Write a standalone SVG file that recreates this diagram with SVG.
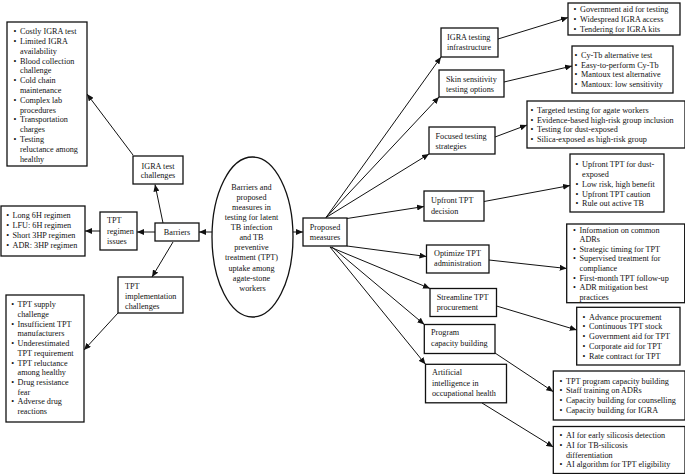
<svg xmlns="http://www.w3.org/2000/svg" width="685" height="474" viewBox="0 0 685 474">
<style>
rect, ellipse { fill: #fff; stroke: #111; stroke-width: 1.3; }
text { font-family: "Liberation Serif", "Times New Roman", serif; font-size: 8.2px; fill: #111; }
.c { text-anchor: middle; }
.edge { stroke: #111; stroke-width: 1; fill: none; marker-end: url(#ah); }
</style>
<defs>
<marker id="ah" markerWidth="7" markerHeight="6" refX="7" refY="3" orient="auto" markerUnits="userSpaceOnUse">
<path d="M0,0 L7,3 L0,6 z" fill="#111"/>
</marker>
</defs>
<rect x="0" y="0" width="685" height="474" style="fill:#fff;stroke:none"/>

<g id="connectors">
<line class="edge" x1="212" y1="232" x2="199" y2="232"/>
<line class="edge" x1="155" y1="232" x2="137" y2="232"/>
<line class="edge" x1="100" y1="231" x2="85" y2="231"/>
<line class="edge" x1="163" y1="223" x2="155" y2="184.5"/>
<line class="edge" x1="133" y1="155" x2="87" y2="94"/>
<line class="edge" x1="173" y1="242" x2="152" y2="277"/>
<line class="edge" x1="118" y1="313" x2="84" y2="350"/>
<line class="edge" x1="293" y1="232" x2="303" y2="232"/>
<line class="edge" x1="326" y1="217.5" x2="441" y2="57"/>
<line class="edge" x1="326" y1="217.5" x2="439" y2="97"/>
<line class="edge" x1="326" y1="217.5" x2="429" y2="154"/>
<line class="edge" x1="347" y1="218.5" x2="424" y2="206.5"/>
<line class="edge" x1="347" y1="246" x2="426.5" y2="256.5"/>
<line class="edge" x1="330" y1="247" x2="430" y2="288.5"/>
<line class="edge" x1="332" y1="247" x2="424.3" y2="324.5"/>
<line class="edge" x1="330" y1="247" x2="425.5" y2="364.3"/>
<line class="edge" x1="498" y1="39" x2="568" y2="17.5"/>
<line class="edge" x1="504" y1="82" x2="572" y2="66"/>
<line class="edge" x1="495" y1="137" x2="527" y2="125"/>
<line class="edge" x1="484" y1="201.5" x2="570" y2="185.5"/>
<line class="edge" x1="489" y1="260" x2="566.7" y2="268.5"/>
<line class="edge" x1="496.5" y1="306" x2="576.7" y2="330"/>
<line class="edge" x1="495" y1="353" x2="553.3" y2="391.7"/>
<line class="edge" x1="482" y1="403" x2="553.3" y2="447"/>
</g>

<g id="igra_list">
<rect x="7" y="22" width="80" height="144"/>
<text>
<tspan x="13.6" y="34.1">•</tspan><tspan x="20">Costly IGRA test</tspan>
<tspan x="13.6" y="43.9">•</tspan><tspan x="20">Limited IGRA</tspan>
<tspan x="20" y="53.7">availability</tspan>
<tspan x="13.6" y="63.5">•</tspan><tspan x="20">Blood collection</tspan>
<tspan x="20" y="73.3">challenge</tspan>
<tspan x="13.6" y="83.1">•</tspan><tspan x="20">Cold chain</tspan>
<tspan x="20" y="92.9">maintenance</tspan>
<tspan x="13.6" y="102.7">•</tspan><tspan x="20">Complex lab</tspan>
<tspan x="20" y="112.5">procedures</tspan>
<tspan x="13.6" y="122.3">•</tspan><tspan x="20">Transportation</tspan>
<tspan x="20" y="132.1">charges</tspan>
<tspan x="13.6" y="141.9">•</tspan><tspan x="20">Testing</tspan>
<tspan x="20" y="151.7">reluctance among</tspan>
<tspan x="20" y="161.5">healthy</tspan>
</text>
</g>

<g id="igra_challenges">
<rect x="133" y="156" width="50" height="28"/>
<text class="c"><tspan x="158" y="168.5">IGRA test</tspan><tspan x="158" y="178.1">challenges</tspan></text>
</g>

<g id="regimen_list">
<rect x="1" y="206" width="84" height="50"/>
<text>
<tspan x="6.2" y="218.1">•</tspan><tspan x="12.5">Long 6H regimen</tspan>
<tspan x="6.2" y="228.1">•</tspan><tspan x="12.5">LFU: 6H regimen</tspan>
<tspan x="6.2" y="238.1">•</tspan><tspan x="12.5">Short 3HP regimen</tspan>
<tspan x="6.2" y="248.1">•</tspan><tspan x="12.5">ADR: 3HP regimen</tspan>
</text>
</g>

<g id="regimen_issues">
<rect x="100" y="212" width="37" height="38"/>
<text><tspan x="107" y="222.8">TPT</tspan><tspan x="107" y="233.8">regimen</tspan><tspan x="107" y="243.8">issues</tspan></text>
</g>

<g id="barriers">
<rect x="155" y="223" width="44" height="18"/>
<text class="c" x="177" y="234.8">Barriers</text>
</g>

<g id="impl_challenges">
<rect x="118" y="277" width="65" height="36"/>
<text><tspan x="125" y="288.8">TPT</tspan><tspan x="125" y="298.8">implementation</tspan><tspan x="125" y="308.8">challenges</tspan></text>
</g>

<g id="impl_list">
<rect x="6" y="295" width="78" height="127"/>
<text>
<tspan x="11.2" y="307.1">•</tspan><tspan x="17.5">TPT supply</tspan>
<tspan x="17.5" y="316.8">challenge</tspan>
<tspan x="11.2" y="326.6">•</tspan><tspan x="17.5">Insufficient TPT</tspan>
<tspan x="17.5" y="336.3">manufacturers</tspan>
<tspan x="11.2" y="346">•</tspan><tspan x="17.5">Underestimated</tspan>
<tspan x="17.5" y="355.7">TPT requirement</tspan>
<tspan x="11.2" y="365.5">•</tspan><tspan x="17.5">TPT reluctance</tspan>
<tspan x="17.5" y="375.2">among healthy</tspan>
<tspan x="11.2" y="384.9">•</tspan><tspan x="17.5">Drug resistance</tspan>
<tspan x="17.5" y="394.7">fear</tspan>
<tspan x="11.2" y="404.4">•</tspan><tspan x="17.5">Adverse drug</tspan>
<tspan x="17.5" y="414.1">reactions</tspan>
</text>
</g>

<g id="central">
<ellipse cx="252.5" cy="237" rx="40.5" ry="80"/>
<text class="c">
<tspan x="252.5" y="189.5">Barriers and</tspan>
<tspan x="252.5" y="199.6">proposed</tspan>
<tspan x="252.5" y="209.8">measures in</tspan>
<tspan x="252.5" y="219.9">testing for latent</tspan>
<tspan x="252.5" y="230">TB infection</tspan>
<tspan x="252.5" y="240.1">and TB</tspan>
<tspan x="252.5" y="250.3">preventive</tspan>
<tspan x="252.5" y="260.4">treatment (TPT)</tspan>
<tspan x="252.5" y="270.5">uptake among</tspan>
<tspan x="252.5" y="280.6">agate-stone</tspan>
<tspan x="252.5" y="290.8">workers</tspan>
</text>
</g>

<g id="proposed">
<rect x="303" y="218" width="44" height="28"/>
<text class="c"><tspan x="325" y="230.1">Proposed</tspan><tspan x="325" y="240.1">measures</tspan></text>
</g>

<g id="igra_infra">
<rect x="441" y="28" width="57" height="29"/>
<text><tspan x="447" y="39.5">IGRA testing</tspan><tspan x="447" y="50.1">infrastructure</tspan></text>
</g>

<g id="skin">
<rect x="439" y="70" width="65" height="27"/>
<text><tspan x="446" y="82.1">Skin sensitivity</tspan><tspan x="446" y="92.1">testing options</tspan></text>
</g>

<g id="focused">
<rect x="429" y="127" width="66" height="27"/>
<text><tspan x="435.5" y="138.8">Focused testing</tspan><tspan x="435.5" y="148.8">strategies</tspan></text>
</g>

<g id="upfront">
<rect x="424" y="191" width="60" height="30"/>
<text><tspan x="431" y="202.8">Upfront TPT</tspan><tspan x="431" y="213.5">decision</tspan></text>
</g>

<g id="optimize">
<rect x="426.5" y="245" width="62.5" height="28"/>
<text><tspan x="434" y="255.5">Optimize TPT</tspan><tspan x="434" y="266.1">administration</tspan></text>
</g>

<g id="streamline">
<rect x="430" y="288.5" width="66.5" height="28"/>
<text><tspan x="436.7" y="299.5">Streamline TPT</tspan><tspan x="436.7" y="310.1">procurement</tspan></text>
</g>

<g id="program">
<rect x="424.3" y="324.5" width="70.7" height="29"/>
<text><tspan x="431" y="335.3">Program</tspan><tspan x="431" y="345.8">capacity building</tspan></text>
</g>

<g id="ai">
<rect x="425.5" y="364.3" width="81" height="38.5"/>
<text><tspan x="432" y="375.3">Artificial</tspan><tspan x="432" y="385.8">intelligence in</tspan><tspan x="432" y="396.1">occupational health</tspan></text>
</g>

<g id="gov_list">
<rect x="568" y="3" width="112" height="32"/>
<text>
<tspan x="573.5" y="12.1">•</tspan><tspan x="580">Government aid for testing</tspan>
<tspan x="573.5" y="22.1">•</tspan><tspan x="580">Widespread IGRA access</tspan>
<tspan x="573.5" y="32.1">•</tspan><tspan x="580">Tendering for IGRA kits</tspan>
</text>
</g>

<g id="cytb_list">
<rect x="572" y="46" width="101" height="47"/>
<text>
<tspan x="574.6" y="57.8">•</tspan><tspan x="581">Cy-Tb alternative test</tspan>
<tspan x="574.6" y="67.5">•</tspan><tspan x="581">Easy-to-perform Cy-Tb</tspan>
<tspan x="574.6" y="77.1">•</tspan><tspan x="581">Mantoux test alternative</tspan>
<tspan x="574.6" y="86.8">•</tspan><tspan x="581">Mantoux: low sensitivity</tspan>
</text>
</g>

<g id="targeted_list">
<rect x="527" y="101" width="158" height="47"/>
<text>
<tspan x="530.6" y="112.8">•</tspan><tspan x="537">Targeted testing for agate workers</tspan>
<tspan x="530.6" y="122.5">•</tspan><tspan x="537">Evidence-based high-risk group inclusion</tspan>
<tspan x="530.6" y="132.1">•</tspan><tspan x="537">Testing for dust-exposed</tspan>
<tspan x="530.6" y="141.8">•</tspan><tspan x="537">Silica-exposed as high-risk group</tspan>
</text>
</g>

<g id="upfront_list">
<rect x="570" y="154" width="94" height="58"/>
<text>
<tspan x="575.6" y="167.2">•</tspan><tspan x="582">Upfront TPT for dust-</tspan>
<tspan x="582" y="177">exposed</tspan>
<tspan x="575.6" y="186.8">•</tspan><tspan x="582">Low risk, high benefit</tspan>
<tspan x="575.6" y="196.6">•</tspan><tspan x="582">Upfront TPT caution</tspan>
<tspan x="575.6" y="206.4">•</tspan><tspan x="582">Rule out active TB</tspan>
</text>
</g>

<g id="admin_list">
<rect x="566.7" y="224" width="118" height="78.7"/>
<text>
<tspan x="573.1" y="232.5">•</tspan><tspan x="579.5">Information on common</tspan>
<tspan x="579.5" y="242.1">ADRs</tspan>
<tspan x="573.1" y="251.7">•</tspan><tspan x="579.5">Strategic timing for TPT</tspan>
<tspan x="573.1" y="261.3">•</tspan><tspan x="579.5">Supervised treatment for</tspan>
<tspan x="579.5" y="270.9">compliance</tspan>
<tspan x="573.1" y="280.5">•</tspan><tspan x="579.5">First-month TPT follow-up</tspan>
<tspan x="573.1" y="290.1">•</tspan><tspan x="579.5">ADR mitigation best</tspan>
<tspan x="579.5" y="299.7">practices</tspan>
</text>
</g>

<g id="procurement_list">
<rect x="576.7" y="307.3" width="103.3" height="57.7"/>
<text>
<tspan x="582.6" y="319.5">•</tspan><tspan x="589">Advance procurement</tspan>
<tspan x="582.6" y="329.2">•</tspan><tspan x="589">Continuous TPT stock</tspan>
<tspan x="582.6" y="339">•</tspan><tspan x="589">Government aid for TPT</tspan>
<tspan x="582.6" y="348.7">•</tspan><tspan x="589">Corporate aid for TPT</tspan>
<tspan x="582.6" y="358.5">•</tspan><tspan x="589">Rate contract for TPT</tspan>
</text>
</g>

<g id="capacity_list">
<rect x="553.3" y="371" width="131.7" height="49"/>
<text>
<tspan x="559.6" y="383.7">•</tspan><tspan x="566">TPT program capacity building</tspan>
<tspan x="559.6" y="393.4">•</tspan><tspan x="566">Staff training on ADRs</tspan>
<tspan x="559.6" y="403.2">•</tspan><tspan x="566">Capacity building for counselling</tspan>
<tspan x="559.6" y="412.9">•</tspan><tspan x="566">Capacity building for IGRA</tspan>
</text>
</g>

<g id="ai_list">
<rect x="553.3" y="426.5" width="131.7" height="47"/>
<text>
<tspan x="559.6" y="438.2">•</tspan><tspan x="566">AI for early silicosis detection</tspan>
<tspan x="559.6" y="447.9">•</tspan><tspan x="566">AI for TB-silicosis</tspan>
<tspan x="566" y="457.7">differentiation</tspan>
<tspan x="559.6" y="467.4">•</tspan><tspan x="566">AI algorithm for TPT eligibility</tspan>
</text>
</g>
</svg>
